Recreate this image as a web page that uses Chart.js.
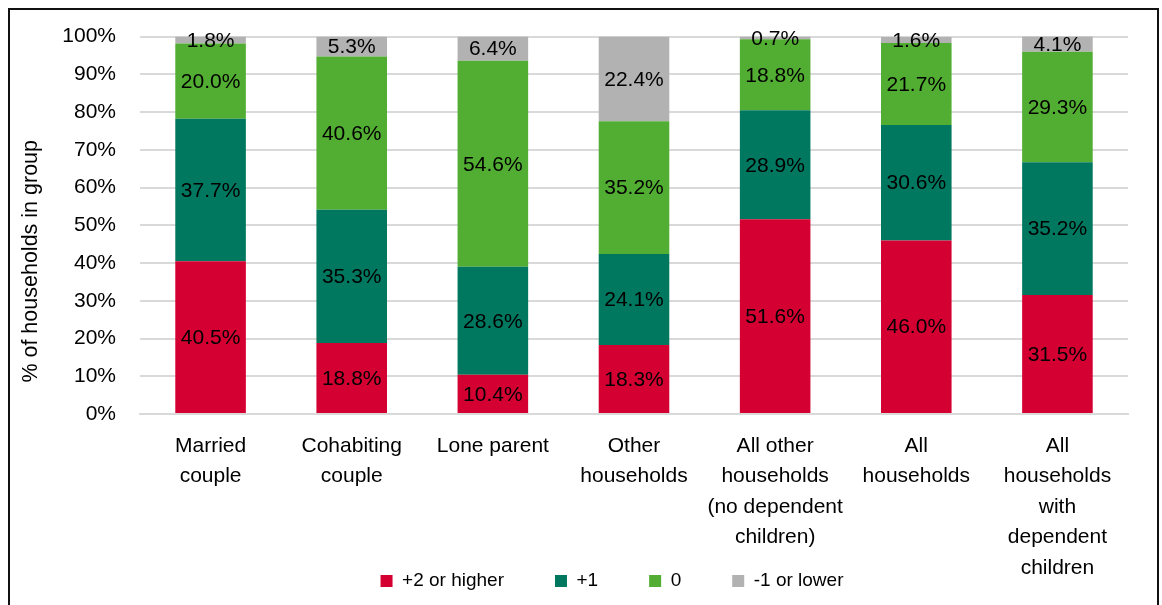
<!DOCTYPE html>
<html>
<head>
<meta charset="utf-8">
<script src="https://cdn.jsdelivr.net/npm/chart.js@4"></script>
<style>
  body { margin: 0; background: #fff; }
  #wrap { position: relative; width: 1162px; height: 605px; }
  #frame { position: absolute; left: 8px; top: 8px; width: 1147px; height: 620px; border: 2px solid #111; pointer-events: none; }
</style>
</head>
<body>
<div id="wrap">
  <canvas id="graf" width="1162" height="605"></canvas>
  <div id="frame"></div>
</div>
<script>
var categories = [
    ['Married', 'couple'],
    ['Cohabiting', 'couple'],
    ['Lone parent'],
    ['Other', 'households'],
    ['All other', 'households', '(no dependent', 'children)'],
    ['All', 'households'],
    ['All', 'households', 'with', 'dependent', 'children']
];
var plus2 = [40.5, 18.8, 10.4, 18.3, 51.6, 46.0, 31.5];
var plus1 = [37.7, 35.3, 28.6, 24.1, 28.9, 30.6, 35.2];
var zero = [20.0, 40.6, 54.6, 35.2, 18.8, 21.7, 29.3];
var minus1 = [1.8, 5.3, 6.4, 22.4, 0.7, 1.6, 4.1];
var yTicks = [0, 10, 20, 30, 40, 50, 60, 70, 80, 90, 100];

Chart.defaults.font.family = '"Liberation Sans", Arial, sans-serif';
Chart.defaults.color = '#000';

// draws the value labels in the middle of each segment
var segLabels = {
    id: 'segLabels',
    afterDatasetsDraw: function(chart) {
        var c = chart.ctx;
        c.save();
        c.font = '21px "Liberation Sans", Arial, sans-serif';
        c.fillStyle = '#000';
        c.textAlign = 'center';
        c.textBaseline = 'middle';
        chart.data.datasets.forEach(function(ds, i) {
            var meta = chart.getDatasetMeta(i);
            meta.data.forEach(function(bar, j) {
                var y = (bar.y + bar.base) / 2;
                c.fillText(ds.data[j].toFixed(1) + '%', bar.x, y + 1);
            });
        });
        c.restore();
    }
};

// the category labels run down beside the legend, so let the x axis reach the bottom,
// pull the legend row up, and drop the y title a bit lower as in the original
var overlapLayout = {
    id: 'overlapLayout',
    afterLayout: function(chart) {
        chart.scales.x.bottom = chart.height;
        chart.scales.y.bottom += 72;
        var lg = chart.legend;
        var h = lg.bottom - lg.top;
        lg.top = 583 - 51 - 11.4;
        lg.bottom = lg.top + h;
        lg.left += 39;
        lg.right += 39;
    }
};

var ctx = document.getElementById("graf").getContext("2d");
var graf = new Chart(ctx, {
    type: 'bar',
    data: {
        labels: categories,
        datasets: [
            { label: '+2 or higher', data: plus2, backgroundColor: '#D50032' },
            { label: '+1', data: plus1, backgroundColor: '#00775F' },
            { label: '0', data: zero, backgroundColor: '#52AE32' },
            { label: '-1 or lower', data: minus1, backgroundColor: '#B2B2B2' }
        ]
    },
    options: {
        responsive: false,
        animation: false,
        barPercentage: 0.5,
        categoryPercentage: 1,
        layout: { padding: { top: 28, right: 34, left: 18, bottom: 0 } },
        plugins: {
            tooltip: { enabled: false },
            legend: {
                position: 'bottom',
                labels: { boxWidth: 12, boxHeight: 12, padding: 51, font: { size: 19 } }
            }
        },
        scales: {
            x: {
                stacked: true,
                grid: { display: false },
                border: { color: '#D9D9D9', width: 2 },
                ticks: { font: { size: 21, lineHeight: 1.45 }, maxRotation: 0, autoSkip: false, padding: 9 },
                afterFit: function(s) { s.height = 111; }
            },
            y: {
                stacked: true,
                min: 0,
                max: 100,
                afterBuildTicks: function(s) { s.ticks = yTicks.map(function(v) { return { value: v }; }); },
                grid: { color: '#D9D9D9', lineWidth: 2, drawTicks: false },
                border: { display: false },
                ticks: { font: { size: 21 }, padding: 24, callback: function(v) { return v + '%'; } },
                title: { display: true, text: '% of households in group', font: { size: 21.5 }, padding: 0 },
                afterFit: function(s) { s.width = 122; }
            }
        }
    },
    plugins: [segLabels, overlapLayout]
});
</script>
</body>
</html>
